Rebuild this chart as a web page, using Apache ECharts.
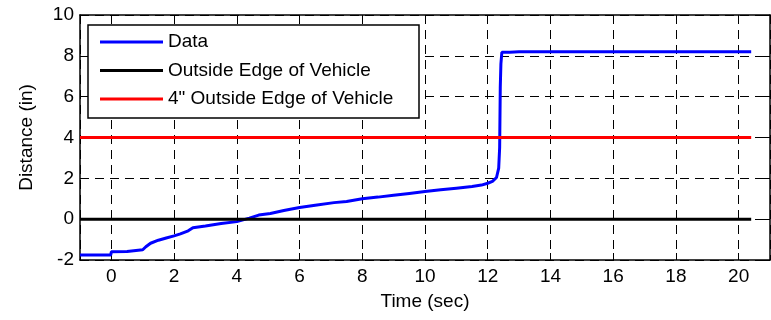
<!DOCTYPE html>
<html>
<head>
<meta charset="utf-8">
<script src="https://cdn.jsdelivr.net/npm/echarts@6/dist/echarts.min.js"></script>
<style>html,body{margin:0;padding:0;background:#fff;}#c{width:771px;height:320px;}</style>
</head>
<body>
<div id="c"></div>
<script>
// Data
const timeData = [-1, -0.02, 0, 0.5, 0.55, 1.0, 1.1, 1.25, 1.5, 1.75, 2.0, 2.2, 2.45, 2.6, 3.0, 3.5, 4.0, 4.4, 4.7, 5.07, 5.5, 6.0, 6.5, 7.1, 7.5, 8.0, 8.5, 9.0, 9.5, 10.0, 10.5, 11.0, 11.5, 11.8, 12.0, 12.15, 12.28, 12.35, 12.38, 12.4, 12.42, 12.45, 12.7, 12.75, 13.0, 20.4];
const distanceData = [-1.75, -1.75, -1.6, -1.58, -1.52, -1.5, -1.35, -1.18, -1.03, -0.92, -0.82, -0.72, -0.57, -0.42, -0.33, -0.21, -0.12, 0.05, 0.2, 0.28, 0.42, 0.57, 0.68, 0.81, 0.87, 1.0, 1.08, 1.17, 1.26, 1.35, 1.44, 1.52, 1.6, 1.67, 1.76, 1.85, 2.04, 2.5, 3.5, 6.45, 7.6, 8.17, 8.17, 8.22, 8.2, 8.2];
const edgeX = [-1, 20.4];
const edgeY = [0, 0];
const edge4X = [-1, 20.4];
const edge4Y = [4, 4];
const seriesNames = ['Data', 'Outside Edge of Vehicle', '4" Outside Edge of Vehicle'];
const xTicks = [0, 2, 4, 6, 8, 10, 12, 14, 16, 18, 20];
const yTicks = [-2, 0, 2, 4, 6, 8, 10];

const zip = (xs, ys) => xs.map((x, i) => [x, ys[i]]);
const FONT = 'Liberation Sans, Arial, sans-serif';
const FS = 19;

const chart = echarts.init(document.getElementById('c'), null, {renderer: 'canvas'});
const dashed = {show: true, lineStyle: {color: '#000', type: [9, 6], width: 1}};
const axisLine = {show: true, onZero: false, lineStyle: {color: '#000', width: 1.5}};
const tickIn = {show: true, inside: true, length: 7, lineStyle: {color: '#000', width: 1}};

chart.setOption({
  animation: false,
  backgroundColor: '#fff',
  grid: {left: 80, right: 1, top: 15, bottom: 60},
  xAxis: [{
    type: 'value', min: -1, max: 21, minInterval: 2, maxInterval: 2,
    axisLine: axisLine, axisTick: tickIn, splitLine: dashed,
    axisLabel: {color: '#000', fontSize: FS, fontFamily: FONT, margin: 7,
      showMinLabel: false, showMaxLabel: false,
      formatter: v => xTicks.includes(v) ? String(v) : ''},
    name: 'Time (sec)', nameLocation: 'middle', nameGap: 32,
    nameTextStyle: {color: '#000', fontSize: FS, fontFamily: FONT}
  }, {
    type: 'value', position: 'top', min: -1, max: 21, minInterval: 2, maxInterval: 2,
    axisLine: axisLine, axisTick: tickIn, splitLine: {show: false}, axisLabel: {show: false}
  }],
  yAxis: [{
    type: 'value', min: -2, max: 10, interval: 2,
    axisLine: axisLine, axisTick: tickIn, splitLine: dashed,
    axisLabel: {color: '#000', fontSize: FS, fontFamily: FONT, margin: 6,
      formatter: v => yTicks.includes(v) ? String(v) : ''},
    name: 'Distance (in)', nameLocation: 'middle', nameGap: 44, nameRotate: 90,
    nameTextStyle: {color: '#000', fontSize: FS, fontFamily: FONT}
  }, {
    type: 'value', position: 'right', min: -2, max: 10, interval: 2,
    axisLine: axisLine, axisTick: tickIn, splitLine: {show: false}, axisLabel: {show: false}
  }],
  graphic: [{
    type: 'rect', z: 3, silent: true,
    shape: {x: 88, y: 25, width: 331, height: 93},
    style: {fill: '#fff', stroke: '#000', lineWidth: 1.5}
  }],
  legend: {
    z: 5, orient: 'vertical', left: 100, top: 32, padding: 0,
    itemWidth: 63, itemHeight: 3, itemGap: 8.5, icon: 'rect',
    textStyle: {color: '#000', fontSize: FS, fontFamily: FONT, lineHeight: 20},
    data: seriesNames
  },
  series: [{
    name: seriesNames[0], type: 'line', data: zip(timeData, distanceData),
    showSymbol: false, symbol: 'none', z: 2,
    lineStyle: {color: '#0000ff', width: 3}, itemStyle: {color: '#0000ff'}
  }, {
    name: seriesNames[1], type: 'line', data: zip(edgeX, edgeY),
    showSymbol: false, symbol: 'none', z: 2,
    lineStyle: {color: '#000000', width: 3}, itemStyle: {color: '#000000'}
  }, {
    name: seriesNames[2], type: 'line', data: zip(edge4X, edge4Y),
    showSymbol: false, symbol: 'none', z: 2,
    lineStyle: {color: '#ff0000', width: 3}, itemStyle: {color: '#ff0000'}
  }]
});
</script>
</body>
</html>
